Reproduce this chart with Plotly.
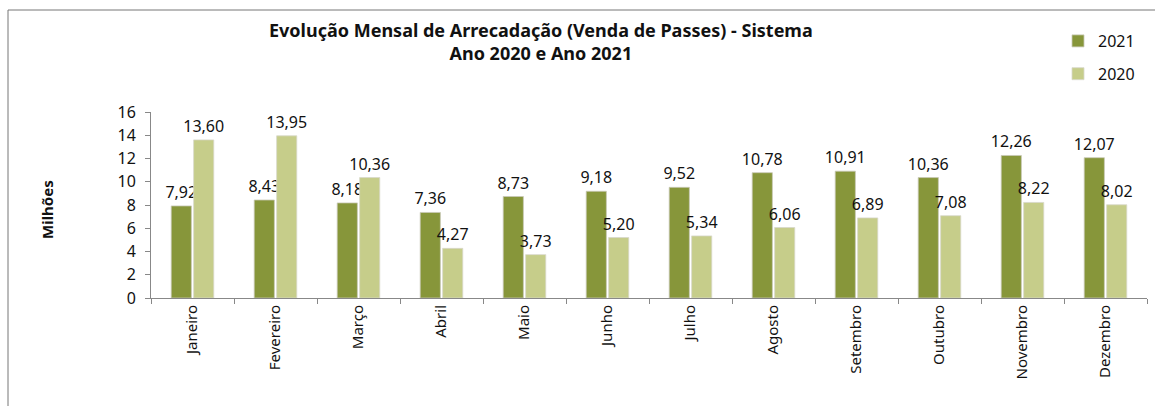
import plotly.graph_objects as go

months = ["Janeiro", "Fevereiro", "Março", "Abril", "Maio", "Junho", "Julho",
          "Agosto", "Setembro", "Outubro", "Novembro", "Dezembro"]
v2021 = [7.92, 8.43, 8.18, 7.36, 8.73, 9.18, 9.52, 10.78, 10.91, 10.36, 12.26, 12.07]
v2020 = [13.60, 13.95, 10.36, 4.27, 3.73, 5.20, 5.34, 6.06, 6.89, 7.08, 8.22, 8.02]
yticks = [0, 2, 4, 6, 8, 10, 12, 14, 16]

FONT = "Noto Sans"
W, H = 1155, 406
L, R, T, B = 151, 8, 112, 108
pw, ph = W - L - R, H - T - B

def px(x):
    return (x - L) / pw

def py(y):
    return (H - B - y) / ph

fig = go.Figure()
fig.add_trace(go.Bar(
    x=months, y=v2021, name="2021", legendgroup="g2021",
    marker=dict(color="#87963a", line=dict(color="#c9c9b8", width=0.8)),
    text=v2021, texttemplate="%{y:.2f}", textposition="outside", constraintext="none",
    textfont=dict(family=FONT, size=16, color="#111"), cliponaxis=False,
))
fig.add_trace(go.Bar(
    x=months, y=v2020, name="2020", legendgroup="g2020",
    marker=dict(color="#c6cd8a", line=dict(color="#d8d8cc", width=0.8)),
    text=v2020, texttemplate="%{y:.2f}", textposition="outside", constraintext="none",
    textfont=dict(family=FONT, size=16, color="#111"), cliponaxis=False,
))

fig.update_layout(
    width=W, height=H,
    margin=dict(l=L, r=R, t=T, b=B, autoexpand=False),
    paper_bgcolor="white", plot_bgcolor="white",
    separators=",.",
    barmode="group", bargap=0.46, bargroupgap=0.1,
    font=dict(family=FONT, size=14, color="#111"),
    legend=dict(
        x=px(1058), y=py(24), xanchor="left", yanchor="top",
        font=dict(family=FONT, size=16, color="#111"),
        tracegroupgap=9, bgcolor="rgba(0,0,0,0)",
    ),
)

fig.update_xaxes(
    type="category", tickangle=-90, showgrid=False, automargin=False,
    showline=True, linecolor="#888", linewidth=1,
    ticks="outside", tickson="boundaries", ticklen=5, tickcolor="#888",
    tickfont=dict(family=FONT, size=15, color="#111"),
)
fig.update_yaxes(
    range=[0, 16], tickvals=yticks, showgrid=False, zeroline=False, automargin=False,
    showline=True, linecolor="#888", linewidth=1,
    ticks="outside", ticklen=5, tickcolor="#888", ticklabelstandoff=6,
    tickfont=dict(family=FONT, size=16, color="#111"),
)

fig.add_annotation(
    text="<b>Evolução Mensal de Arrecadação (Venda de Passes) - Sistema<br>Ano 2020 e Ano 2021</b>",
    showarrow=False, xref="paper", yref="paper", x=px(541), y=py(42),
    xanchor="center", yanchor="middle",
    font=dict(family=FONT, size=18, color="#111"),
)

fig.add_annotation(
    text="<b>Milhões</b>", textangle=-90, showarrow=False,
    xref="paper", yref="paper", x=px(47), y=py(210),
    xanchor="center", yanchor="middle",
    font=dict(family=FONT, size=15, color="#111"),
)

# chart frame (top and left edges visible)
fig.add_shape(type="line", xref="paper", yref="paper",
              x0=px(8), x1=px(1155), y0=py(10), y1=py(10),
              line=dict(color="#777", width=1), layer="below")
fig.add_shape(type="line", xref="paper", yref="paper",
              x0=px(8), x1=px(8), y0=py(10), y1=py(406),
              line=dict(color="#777", width=1), layer="below")

fig.write_html("out.html", config={"displayModeBar": False},
               post_script="document.body.style.margin='0';")
